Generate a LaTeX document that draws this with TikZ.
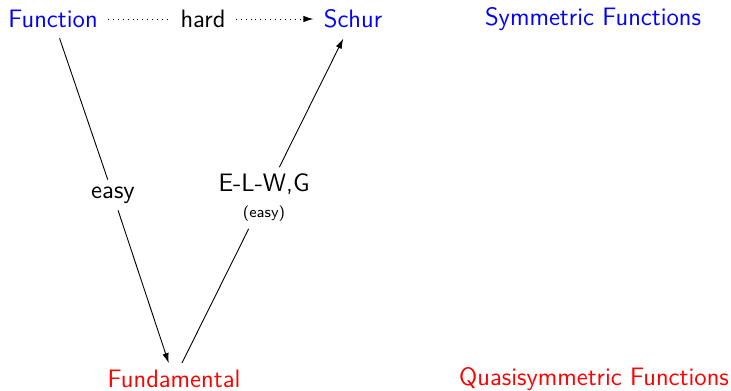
\documentclass[tikz,border=0pt]{standalone}
\usetikzlibrary{arrows.meta}
\begin{document}
\begin{tikzpicture}[x=0.5pt,y=-0.5pt,
  every node/.style={font=\sffamily\fontsize{12.6}{15}\selectfont},
  sym/.style={text=blue},
  qsym/.style={text=red},
  arr/.style={-{Latex[length=5pt,width=3.2pt]}, line width=0.45pt},
  lab/.style={inner sep=3.3pt}]
\useasboundingbox (0,0) rectangle (731,390);
\node[sym, inner sep=5pt] (func) at (53,19) {Function};
\node[lab, inner sep=5pt] (hard) at (203,19) {hard};
\node[sym, inner sep=5pt] (schur) at (353,19) {Schur};
\node[sym] (symf) at (593,19) {Symmetric Functions};
\node[lab] (easy) at (113,195) {easy};
\node[lab, align=center] (elwg) at (264,198) {E-L-W,G\\[-2pt]{\fontsize{7.8}{9}\selectfont (easy)}};
\node[qsym] (fund) at (174,379) {Fundamental};
\node[qsym] (qsymf) at (594,379) {Quasisymmetric Functions};
\draw[arr, dotted] (func) -- (hard) -- (schur);
\draw[arr] (func) -- (easy) -- (fund);
\draw[arr] (fund) -- (elwg) -- (schur);
\end{tikzpicture}
\end{document}
